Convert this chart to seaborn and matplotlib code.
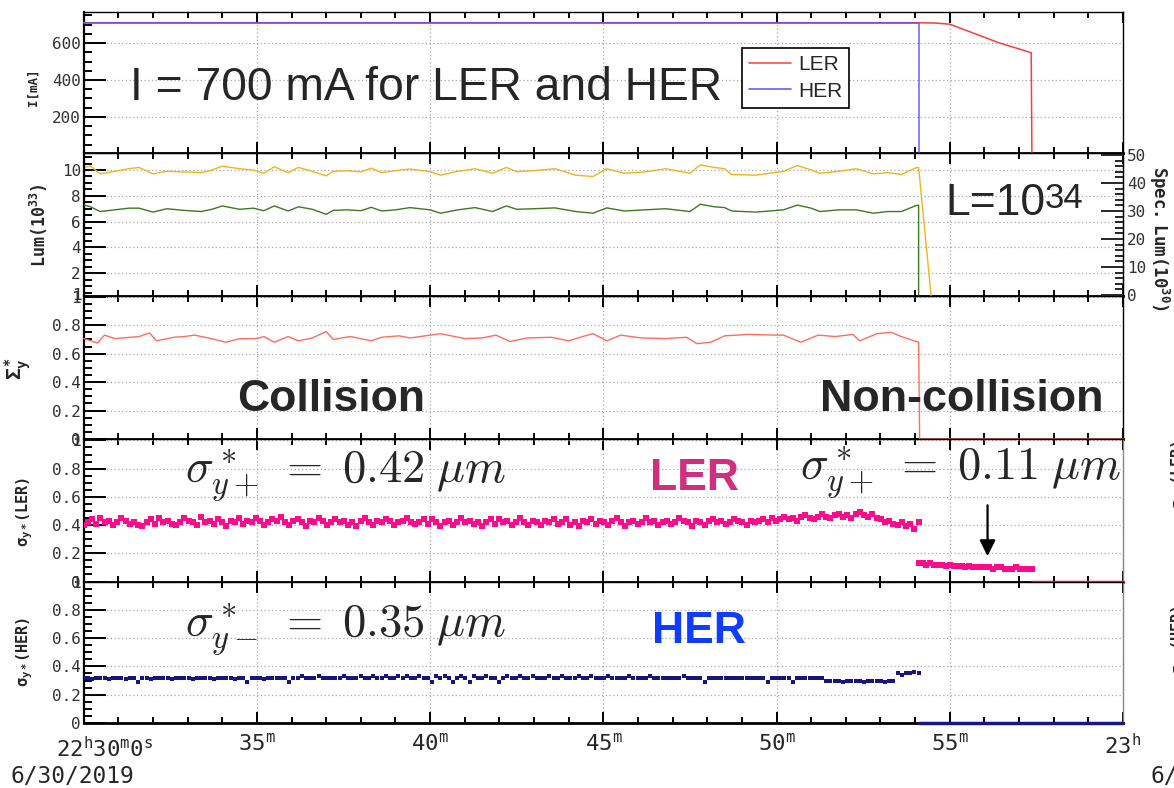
import numpy as np
import pandas as pd
import matplotlib
matplotlib.use("Agg")
import matplotlib.pyplot as plt
import seaborn as sns
from matplotlib.ticker import MultipleLocator, FuncFormatter
from matplotlib.lines import Line2D

# ---------------- data (time in minutes after 22:30:00, 6/30/2019) ----------------
x_tick_min = [0, 5, 10, 15, 20, 25, 30]
x_tick_labels = ["", r"$\mathrm{35^{m}}$", r"$\mathrm{40^{m}}$", r"$\mathrm{45^{m}}$",
                 r"$\mathrm{50^{m}}$", r"$\mathrm{55^{m}}$", r"$\mathrm{23^{h}}$"]
first_tick_label = r"$\mathrm{22^{h}30^{m}0^{s}}$"
date_label = "6/30/2019"

# beam currents [mA]
ler_I_t = [0.0, 24.1, 24.6, 25.0, 26.44, 27.35, 27.37, 29.27]
ler_I = [710, 710, 708, 702, 600, 548, 0, 0]
her_I_t = [0.0, 24.1, 24.1, 29.27]
her_I = [710, 710, 0, 0]

# luminosity (1e33) and specific luminosity (1e30)
lum_t = [0.0, 0.2, 0.47, 0.9, 1.3, 1.6, 2.0, 2.4, 2.9, 3.4, 3.7, 4.0, 4.5, 4.9, 5.2, 5.5, 5.9, 6.2,
         6.6, 7.0, 7.2, 7.6, 8.0, 8.3, 8.6, 9.0, 9.42, 10.0, 10.3, 10.8, 11.3, 11.8, 12.2, 12.5,
         13.0, 13.6, 14.2, 14.7, 15.1, 15.6, 16.2, 16.8, 17.5, 17.8, 18.2, 18.5, 18.7, 19.4, 20.2,
         20.6, 21.0, 21.25, 21.8, 22.3, 22.8, 23.2, 23.6, 24.0, 24.1, 24.47]
lum = [10.2, 10.3, 9.7, 9.9, 10.1, 10.2, 9.7, 9.9, 9.85, 9.8, 10.0, 10.3, 10.1, 10.0, 9.75, 10.25,
       9.8, 10.2, 9.9, 9.55, 9.9, 9.95, 9.85, 10.15, 9.8, 9.95, 10.08, 9.87, 9.6, 9.9, 10.1, 9.75,
       10.2, 9.87, 9.95, 10.1, 9.6, 9.5, 10.1, 9.75, 9.85, 10.1, 9.75, 10.4, 10.2, 10.1, 9.65, 9.6,
       9.9, 10.35, 10.0, 9.75, 9.9, 10.1, 9.7, 9.8, 9.65, 10.15, 10.2, 0.0]
spec_t = [0.0, 0.2, 0.47, 0.9, 1.3, 1.6, 2.0, 2.4, 2.9, 3.4, 3.7, 4.0, 4.5, 4.9, 5.2, 5.5, 5.9, 6.2,
          6.6, 7.0, 7.2, 7.6, 8.0, 8.3, 8.6, 9.0, 9.42, 10.0, 10.3, 10.8, 11.3, 11.8, 12.2, 12.5,
          13.0, 13.6, 14.2, 14.7, 15.1, 15.6, 16.2, 16.8, 17.5, 17.8, 18.2, 18.5, 18.7, 19.4, 20.2,
          20.6, 21.0, 21.25, 21.8, 22.3, 22.8, 23.2, 23.6, 24.0, 24.1, 24.1]
spec_lum = [32.1, 31.5, 29.8, 30.4, 31.0, 31.0, 29.6, 30.8, 30.2, 29.8, 30.6, 31.8, 30.6, 31.0,
            30.1, 31.8, 30.0, 31.5, 30.6, 28.8, 30.2, 30.4, 30.1, 31.3, 30.0, 30.4, 31.2, 30.4,
            29.2, 30.4, 31.2, 29.8, 31.8, 30.6, 30.8, 31.1, 29.8, 29.2, 31.1, 30.0, 30.4, 30.8,
            29.8, 32.4, 31.5, 31.2, 30.0, 29.6, 30.4, 32.1, 31.0, 29.8, 30.4, 30.4, 29.2, 29.8,
            29.8, 31.8, 32.1, 0.0]

# Sigma_y*
sig_t = [0.0, 0.4, 0.6, 0.9, 1.6, 1.9, 2.1, 2.6, 2.9, 3.2, 3.6, 4.1, 4.5, 5.0, 5.2, 5.5, 5.9, 6.2,
         6.6, 7.0, 7.2, 7.7, 8.3, 8.6, 9.1, 9.42, 10.0, 10.3, 11.0, 11.5, 11.9, 12.3, 12.8, 13.5,
         14.0, 14.4, 14.7, 15.1, 15.5, 16.1, 16.8, 17.4, 17.7, 18.1, 18.5, 19.2, 20.0, 20.2, 20.7,
         21.2, 21.7, 22.2, 22.4, 22.9, 23.3, 23.6, 24.1, 24.13, 30.0]
sig_y = [0.706, 0.675, 0.73, 0.706, 0.72, 0.745, 0.69, 0.715, 0.72, 0.73, 0.71, 0.68, 0.705, 0.706,
         0.72, 0.68, 0.72, 0.69, 0.71, 0.755, 0.70, 0.72, 0.69, 0.715, 0.725, 0.71, 0.73, 0.74,
         0.706, 0.71, 0.73, 0.685, 0.71, 0.715, 0.69, 0.72, 0.74, 0.69, 0.73, 0.71, 0.706, 0.715,
         0.67, 0.68, 0.725, 0.735, 0.73, 0.73, 0.68, 0.73, 0.72, 0.735, 0.69, 0.74, 0.75, 0.72,
         0.68, 0.0, 0.0]

# sigma_y* LER (collision, 200 samples from 0 to 24.1 min)
ler_sig = [0.40, 0.42, 0.44, 0.41, 0.45, 0.42, 0.43, 0.40, 0.42, 0.45, 0.43, 0.41, 0.42, 0.40, 0.39, 0.42, 0.44, 0.41, 0.45, 0.42,
           0.43, 0.41, 0.40, 0.42, 0.45, 0.43, 0.42, 0.40, 0.46, 0.42, 0.43, 0.41, 0.44, 0.42, 0.39, 0.43, 0.42, 0.45, 0.41, 0.43,
           0.42, 0.45, 0.43, 0.40, 0.42, 0.44, 0.43, 0.46, 0.42, 0.40, 0.43, 0.44, 0.42, 0.39, 0.43, 0.42, 0.45, 0.43, 0.40, 0.42,
           0.44, 0.42, 0.43, 0.40, 0.42, 0.39, 0.43, 0.45, 0.42, 0.40, 0.43, 0.42, 0.44, 0.43, 0.40, 0.42, 0.43, 0.45, 0.42, 0.41,
           0.42, 0.44, 0.41, 0.44, 0.42, 0.39, 0.42, 0.43, 0.40, 0.42, 0.45, 0.42, 0.43, 0.41, 0.42, 0.39, 0.42, 0.44, 0.41, 0.44,
           0.42, 0.43, 0.40, 0.42, 0.45, 0.42, 0.40, 0.43, 0.42, 0.40, 0.43, 0.42, 0.44, 0.41, 0.42, 0.44, 0.40, 0.42, 0.39, 0.43,
           0.42, 0.44, 0.41, 0.43, 0.42, 0.40, 0.43, 0.45, 0.42, 0.39, 0.42, 0.43, 0.41, 0.42, 0.45, 0.42, 0.43, 0.40, 0.42, 0.43,
           0.41, 0.42, 0.45, 0.43, 0.42, 0.39, 0.43, 0.42, 0.40, 0.43, 0.44, 0.42, 0.43, 0.41, 0.42, 0.44, 0.43, 0.42, 0.40, 0.43,
           0.42, 0.43, 0.44, 0.42, 0.45, 0.43, 0.44, 0.46, 0.44, 0.45, 0.43, 0.46, 0.47, 0.45, 0.44, 0.46, 0.48, 0.46, 0.45, 0.47,
           0.48, 0.46, 0.47, 0.45, 0.48, 0.49, 0.47, 0.46, 0.48, 0.45, 0.44, 0.42, 0.43, 0.41, 0.40, 0.42, 0.39, 0.41, 0.37, 0.42]
# sigma_y* LER (non-collision, 30 samples from 24.1 to 27.37 min)
ler_sig_nc = [0.13, 0.13, 0.12, 0.13, 0.12, 0.12, 0.12, 0.11, 0.12, 0.11, 0.11, 0.11, 0.10, 0.11, 0.10,
              0.10, 0.10, 0.10, 0.10, 0.09, 0.10, 0.10, 0.09, 0.09, 0.09, 0.10, 0.09, 0.09, 0.09, 0.09]
ler_zero_t = [27.37, 30.0]
ler_zero = [0.0, 0.0]

# sigma_y* HER (collision, 200 samples from 0 to 24.1 min)
her_sig = [0.32, 0.32, 0.31, 0.32, 0.32, 0.32, 0.31, 0.32, 0.32, 0.32, 0.31, 0.32, 0.32, 0.29, 0.32, 0.32, 0.31, 0.32, 0.32, 0.32,
           0.32, 0.31, 0.32, 0.32, 0.32, 0.32, 0.31, 0.32, 0.32, 0.32, 0.32, 0.31, 0.32, 0.32, 0.32, 0.32, 0.31, 0.32, 0.32, 0.29,
           0.32, 0.32, 0.32, 0.31, 0.32, 0.32, 0.32, 0.32, 0.32, 0.29, 0.32, 0.32, 0.33, 0.32, 0.32, 0.32, 0.33, 0.32, 0.32, 0.32,
           0.32, 0.32, 0.33, 0.32, 0.32, 0.32, 0.33, 0.32, 0.32, 0.33, 0.32, 0.32, 0.33, 0.32, 0.32, 0.33, 0.32, 0.33, 0.32, 0.32,
           0.33, 0.32, 0.32, 0.29, 0.33, 0.32, 0.33, 0.32, 0.29, 0.32, 0.33, 0.32, 0.29, 0.33, 0.32, 0.32, 0.33, 0.32, 0.32, 0.29,
           0.32, 0.33, 0.32, 0.32, 0.33, 0.32, 0.32, 0.33, 0.32, 0.32, 0.32, 0.33, 0.32, 0.32, 0.33, 0.32, 0.32, 0.32, 0.33, 0.32,
           0.32, 0.33, 0.32, 0.32, 0.32, 0.33, 0.32, 0.32, 0.32, 0.32, 0.33, 0.32, 0.32, 0.32, 0.32, 0.33, 0.32, 0.32, 0.32, 0.32,
           0.32, 0.32, 0.32, 0.33, 0.32, 0.32, 0.32, 0.32, 0.29, 0.32, 0.32, 0.32, 0.32, 0.32, 0.32, 0.32, 0.32, 0.32, 0.32, 0.32,
           0.32, 0.32, 0.32, 0.29, 0.32, 0.32, 0.32, 0.32, 0.32, 0.29, 0.32, 0.32, 0.32, 0.32, 0.32, 0.32, 0.32, 0.30, 0.30, 0.30,
           0.30, 0.29, 0.30, 0.30, 0.30, 0.30, 0.29, 0.30, 0.30, 0.30, 0.30, 0.29, 0.30, 0.30, 0.35, 0.34, 0.35, 0.35, 0.36, 0.35]
her_zero_t = [24.1, 30.0]
her_zero = [0.0, 0.0]

# ---------------- style ----------------
sns.set_style("ticks")
plt.rcParams.update({
    "font.family": ["DejaVu Sans Mono"],
    "mathtext.fontset": "custom",
    "mathtext.rm": "DejaVu Sans Mono",
    "mathtext.it": "DejaVu Sans Mono:italic",
    "mathtext.bf": "DejaVu Sans Mono:bold",
    "axes.edgecolor": "black",
    "axes.facecolor": "white",
    "figure.facecolor": "white",
})

W, H = 1174, 788
L_PX, R_PX = 83.7, 1123.0
rows = [(12, 153), (153, 296), (296, 439), (439, 581.5), (581.5, 723)]
fig = plt.figure(figsize=(W / 100, H / 100), dpi=100)
axes = []
for top, bot in rows:
    axes.append(fig.add_axes([L_PX / W, 1 - bot / H, (R_PX - L_PX) / W, (bot - top) / H]))
ax1, ax2, ax3, ax4, ax5 = axes

fmt_g = FuncFormatter(lambda v, _: f"{v:g}")


def style(ax, ymaj, ymin, ylim, right_color="black"):
    ax.set_xlim(0, 30)
    ax.set_ylim(*ylim)
    ax.xaxis.set_major_locator(MultipleLocator(5))
    ax.xaxis.set_minor_locator(MultipleLocator(1))
    ax.yaxis.set_major_locator(MultipleLocator(ymaj))
    ax.yaxis.set_minor_locator(MultipleLocator(ymin))
    ax.yaxis.set_major_formatter(fmt_g)
    ax.tick_params(axis="x", which="both", direction="in", top=True, bottom=True,
                   labelbottom=False, width=1.4, color="black")
    ax.tick_params(axis="x", which="major", length=8)
    ax.tick_params(axis="x", which="minor", length=4.5)
    ax.tick_params(axis="y", which="both", direction="in", left=True, right=False,
                   width=1.4, color="black")
    ax.tick_params(axis="y", which="major", length=16, labelsize=11.5, pad=2,
                   labelcolor="#333333")
    ax.tick_params(axis="y", which="minor", length=6)
    ax.grid(True, which="major", color="#a8a8a8", linestyle=(0, (1, 2)), linewidth=0.9)
    ax.set_axisbelow(True)
    ax.spines["left"].set_linewidth(1.6)
    ax.spines["bottom"].set_linewidth(2.0)
    ax.spines["top"].set_linewidth(1.0)
    ax.spines["right"].set_linewidth(1.0)
    ax.spines["right"].set_color(right_color)
    ax.set_xlabel("")


# ---- panel 1: currents ----
style(ax1, 200, 50, (5, 768))
sns.lineplot(x=ler_I_t, y=ler_I, ax=ax1, color="#ff3b3b", lw=1.1, estimator=None, sort=False,
             clip_on=False, zorder=4)
sns.lineplot(x=her_I_t, y=her_I, ax=ax1, color="#5a4cff", lw=1.1, estimator=None, sort=False,
             clip_on=False, zorder=5, alpha=0.9)
ax1.set_ylabel("I[mA]", fontsize=9, fontweight="bold")
ax1.yaxis.set_label_coords(-0.042, 0.468)
handles = [Line2D([], [], color="#ff4d4d", lw=1.2), Line2D([], [], color="#6060ff", lw=1.2)]
leg = ax1.legend(handles, ["LER", "HER"], loc="upper left", bbox_to_anchor=(0.633, 0.745),
                 frameon=True, fancybox=False, edgecolor="black", framealpha=1,
                 prop={"family": "Liberation Sans", "size": 15}, handlelength=2.0,
                 handletextpad=0.35, borderpad=0.35, labelspacing=0.35, borderaxespad=0)
leg.get_frame().set_linewidth(1.2)

# ---- panel 2: luminosity ----
style(ax2, 2, 0.5, (0.23, 11.32))
sns.lineplot(x=lum_t, y=lum, ax=ax2, color="#f2b31c", lw=1.0, estimator=None, sort=False, zorder=4)
ax2r = ax2.twinx()
ax2r.set_xlim(0, 30)
ax2r.set_ylim(-0.36, 50.7)
sns.lineplot(x=spec_t, y=spec_lum, ax=ax2r, color="#3c7a22", lw=1.0, estimator=None, sort=False,
             zorder=4)
ax2r.yaxis.set_major_locator(MultipleLocator(10))
ax2r.yaxis.set_minor_locator(MultipleLocator(2))
ax2r.yaxis.set_major_formatter(fmt_g)
ax2r.tick_params(axis="y", which="both", direction="in", right=True, left=False, width=1.4)
ax2r.tick_params(axis="y", which="major", length=16, labelsize=11.5, pad=3, labelcolor="#333333")
ax2r.tick_params(axis="y", which="minor", length=6)
ax2r.grid(False)
ax2r.set_ylabel(r"$\mathbf{Spec.\ Lum(10^{30})}$", fontsize=12.5, rotation=270,
                va="center", ha="center")
ax2r.yaxis.set_label_coords(1.035, 0.40)
ax2.set_ylabel(r"$\mathbf{Lum(10^{33})}$", fontsize=12)
ax2.yaxis.set_label_coords(-0.032, 0.497)
ax2.text(-0.002, 0.0, "1", transform=ax2.transAxes, ha="right", va="center",
         fontsize=11.5, color="#333333")

# ---- panel 3: Sigma_y* ----
style(ax3, 0.2, 0.05, (0, 1.005))
sns.lineplot(x=sig_t, y=sig_y, ax=ax3, color="#ff6e5c", lw=1.0, estimator=None, sort=False,
             clip_on=False, zorder=4)
ax3.set_ylabel(r"$\mathbf{\Sigma_y^*}$", fontsize=14)
ax3.yaxis.set_label_coords(-0.049, 0.49)

# ---- panel 4: sigma_y* LER ----
style(ax4, 0.2, 0.05, (0, 1.01), right_color="#888888")
t_col = np.linspace(0, 24.1, len(ler_sig))
t_nc = np.linspace(24.1, 27.37, len(ler_sig_nc))
sns.scatterplot(x=t_col, y=ler_sig, ax=ax4, color="#ff0a8c", marker="s", s=15, linewidth=0, zorder=4)
sns.scatterplot(x=t_nc, y=ler_sig_nc, ax=ax4, color="#ff0a8c", marker="s", s=13, linewidth=0, zorder=4)
sns.lineplot(x=ler_zero_t, y=ler_zero, ax=ax4, color="#ff0a8c", lw=2.5, estimator=None,
             sort=False, clip_on=False, zorder=5)
ax4.set_ylabel(r"$\mathbf{\sigma_{y*}(LER)}$", fontsize=11)
ax4.yaxis.set_label_coords(-0.047, 0.488)
ax4.annotate("", xy=(26.09, 0.16), xytext=(26.09, 0.56), xycoords="data",
             arrowprops=dict(arrowstyle="-|>", color="black", lw=1.6, mutation_scale=24))

# ---- panel 5: sigma_y* HER ----
style(ax5, 0.2, 0.05, (0, 1.0), right_color="#888888")
t_col_h = np.linspace(0, 24.1, len(her_sig))
sns.scatterplot(x=t_col_h, y=her_sig, ax=ax5, color="#16167e", marker="s", s=12, linewidth=0, zorder=4)
sns.lineplot(x=her_zero_t, y=her_zero, ax=ax5, color="#16167e", lw=2.5, estimator=None,
             sort=False, clip_on=False, zorder=5)
ax5.set_ylabel(r"$\mathbf{\sigma_{y*}(HER)}$", fontsize=11)
ax5.yaxis.set_label_coords(-0.047, 0.50)
ax5.set_xticks(x_tick_min, labels=x_tick_labels)
ax5.tick_params(axis="x", which="major", labelbottom=True, labelsize=16, pad=7)

# ---------------- annotations ----------------
def px(x, y):
    return x / W, 1 - y / H

fig.text(*px(105, 757), first_tick_label, ha="center", va="baseline", fontsize=16)
fig.text(*px(10, 783), date_label, ha="left", va="baseline", fontsize=16.5)
fig.text(*px(1150, 783), date_label, ha="left", va="baseline", fontsize=16.5)

fig.text(*px(130, 100), "I = 700 mA for LER and HER", fontsize=33.3, family="Liberation Sans",
         ha="left", va="baseline")
t_l = fig.text(*px(945, 215), "L=10", fontsize=32, family="Liberation Sans", ha="left",
               va="baseline")
ax2.annotate("34", xy=(1.0, 1.02), xycoords=t_l, ha="left", va="top", fontsize=25,
             family="Liberation Sans")
fig.text(*px(237, 411), "Collision", fontsize=32, family="Liberation Sans", fontweight="bold",
         ha="left", va="baseline")
fig.text(*px(820, 411), "Non-collision", fontsize=32.3, family="Liberation Sans",
         fontweight="bold", ha="left", va="baseline")
fig.text(*px(185, 483), r"$\sigma^*_{y+}\;=\;0.42\;\mu m$", fontsize=33.5, math_fontfamily="cm",
         ha="left", va="baseline")
fig.text(*px(800, 480), r"$\sigma^*_{y+}\;=\;0.11\;\mu m$", fontsize=33.5, math_fontfamily="cm",
         ha="left", va="baseline")
fig.text(*px(185, 637), r"$\sigma^*_{y-}\;=\;0.35\;\mu m$", fontsize=33.5, math_fontfamily="cm",
         ha="left", va="baseline")
fig.text(*px(650, 490), "LER", fontsize=32, family="Liberation Sans", fontweight="bold",
         color="#d02e7e", ha="left", va="baseline")
fig.text(*px(652, 643), "HER", fontsize=32, family="Liberation Sans", fontweight="bold",
         color="#0f3cff", ha="left", va="baseline")
# partially visible labels of a neighbouring plot at the right edge
fig.text(*px(1180, 475), r"$\mathbf{\sigma_{y*}(LER)}$", fontsize=11, rotation=90,
         ha="center", va="center")
fig.text(*px(1180, 640), r"$\mathbf{\sigma_{y*}(HER)}$", fontsize=11, rotation=90,
         ha="center", va="center")

fig.savefig("out.png", dpi=100)
